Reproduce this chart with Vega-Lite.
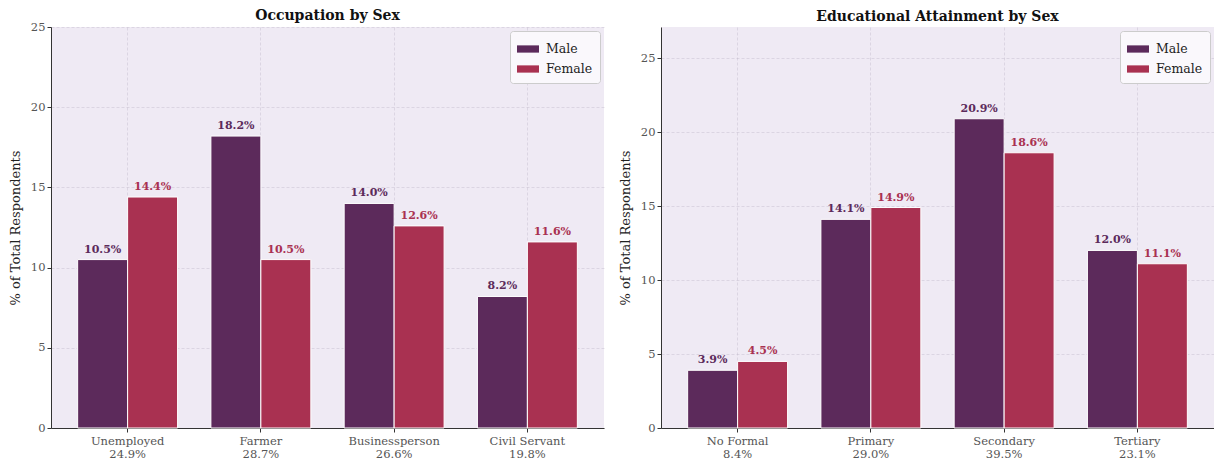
{
  "$schema": "https://vega.github.io/schema/vega-lite/v6.json",
  "padding": {"left": 9, "top": 9, "right": 0, "bottom": 0},
  "background": "white",
  "spacing": 15,
  "config": {
    "font": "DejaVu Serif",
    "view": {"fill": "#EFEAF4", "stroke": null},
    "axis": {
      "labelFont": "DejaVu Serif", "titleFont": "DejaVu Serif",
      "labelColor": "#555555", "labelFontSize": 11.5,
      "titleFontSize": 13, "titleFontWeight": "normal", "titleColor": "#222222",
      "domainColor": "#333333", "tickColor": "#333333", "tickSize": 4,
      "gridColor": "#b8b0c0", "gridOpacity": 0.5, "gridDash": [3, 2], "gridWidth": 0.7,
      "zindex": 1
    },
    "title": {"font": "DejaVu Serif", "fontSize": 14, "fontWeight": "bold", "color": "#111111", "offset": -1},
    "legend": {
      "labelFont": "DejaVu Serif", "labelFontSize": 12.5, "labelColor": "#222222",
      "symbolType": "M-1,-0.33H1V0.33H-1Z", "symbolSize": 484, "symbolStrokeWidth": 0,
      "fillColor": "#FAF8FC", "strokeColor": "#cccccc", "cornerRadius": 3,
      "padding": 7, "rowPadding": 2, "labelOffset": 7, "orient": "top-right", "offset": 4, "title": null
    }
  },
  "datasets": {
    "occ": [
      {"cat": "Unemployed|24.9%", "sex": "Male", "value": 10.5},
      {"cat": "Unemployed|24.9%", "sex": "Female", "value": 14.4},
      {"cat": "Farmer|28.7%", "sex": "Male", "value": 18.2},
      {"cat": "Farmer|28.7%", "sex": "Female", "value": 10.5},
      {"cat": "Businessperson|26.6%", "sex": "Male", "value": 14.0},
      {"cat": "Businessperson|26.6%", "sex": "Female", "value": 12.6},
      {"cat": "Civil Servant|19.8%", "sex": "Male", "value": 8.2},
      {"cat": "Civil Servant|19.8%", "sex": "Female", "value": 11.6}
    ],
    "edu": [
      {"cat": "No Formal|8.4%", "sex": "Male", "value": 3.9},
      {"cat": "No Formal|8.4%", "sex": "Female", "value": 4.5},
      {"cat": "Primary|29.0%", "sex": "Male", "value": 14.1},
      {"cat": "Primary|29.0%", "sex": "Female", "value": 14.9},
      {"cat": "Secondary|39.5%", "sex": "Male", "value": 20.9},
      {"cat": "Secondary|39.5%", "sex": "Female", "value": 18.6},
      {"cat": "Tertiary|23.1%", "sex": "Male", "value": 12.0},
      {"cat": "Tertiary|23.1%", "sex": "Female", "value": 11.1}
    ]
  },
  "hconcat": [
    {
      "title": {"text": "Occupation by Sex", "offset": -2},
      "width": 553, "height": 401,
      "data": {"name": "occ"},
      "transform": [{"calculate": "format(datum.value, '.1f') + '%'", "as": "label"}],
      "encoding": {
        "x": {"field": "cat", "type": "nominal", "sort": null, "title": null,
              "scale": {"paddingInner": 0.25, "paddingOuter": 0.2},
              "axis": {"labelAngle": 0, "labelExpr": "split(datum.label, '|')", "bandPosition": 0.5, "grid": true, "labelPadding": 3}},
        "xOffset": {"field": "sex", "type": "nominal", "sort": ["Male", "Female"]},
        "y": {"field": "value", "type": "quantitative", "title": "% of Total Respondents",
              "scale": {"domain": [0, 25], "nice": false},
              "axis": {"values": [0, 5, 10, 15, 20, 25], "titlePadding": 8}}
      },
      "layer": [
        {"mark": {"type": "bar", "stroke": "white", "strokeWidth": 1},
         "encoding": {"color": {"field": "sex", "type": "nominal", "sort": ["Male", "Female"],
                  "scale": {"domain": ["Male", "Female"], "range": ["#5C2A5B", "#A93151"]}}}},
        {"mark": {"type": "text", "fontWeight": "bold", "fontSize": 11, "baseline": "bottom", "dy": -5},
         "encoding": {"text": {"field": "label", "type": "nominal"},
                      "color": {"condition": {"test": "datum.sex === 'Male'", "value": "#5C2A5B"}, "value": "#A93151"}}}
      ]
    },
    {
      "title": {"text": "Educational Attainment by Sex", "offset": 3},
      "width": 553, "height": 401,
      "data": {"name": "edu"},
      "transform": [{"calculate": "format(datum.value, '.1f') + '%'", "as": "label"}],
      "encoding": {
        "x": {"field": "cat", "type": "nominal", "sort": null, "title": null,
              "scale": {"paddingInner": 0.25, "paddingOuter": 0.2},
              "axis": {"labelAngle": 0, "labelExpr": "split(datum.label, '|')", "bandPosition": 0.5, "grid": true, "labelPadding": 3}},
        "xOffset": {"field": "sex", "type": "nominal", "sort": ["Male", "Female"]},
        "y": {"field": "value", "type": "quantitative", "title": "% of Total Respondents",
              "scale": {"domain": [0, 27.1], "nice": false},
              "axis": {"values": [0, 5, 10, 15, 20, 25], "titlePadding": 8}}
      },
      "layer": [
        {"mark": {"type": "bar", "stroke": "white", "strokeWidth": 1},
         "encoding": {"color": {"field": "sex", "type": "nominal", "sort": ["Male", "Female"],
                  "scale": {"domain": ["Male", "Female"], "range": ["#5C2A5B", "#A93151"]}}}},
        {"mark": {"type": "text", "fontWeight": "bold", "fontSize": 11, "baseline": "bottom", "dy": -5},
         "encoding": {"text": {"field": "label", "type": "nominal"},
                      "color": {"condition": {"test": "datum.sex === 'Male'", "value": "#5C2A5B"}, "value": "#A93151"}}}
      ]
    }
  ],
  "resolve": {"scale": {"color": "independent", "x": "independent", "y": "independent"}, "legend": {"color": "independent"}}
}
